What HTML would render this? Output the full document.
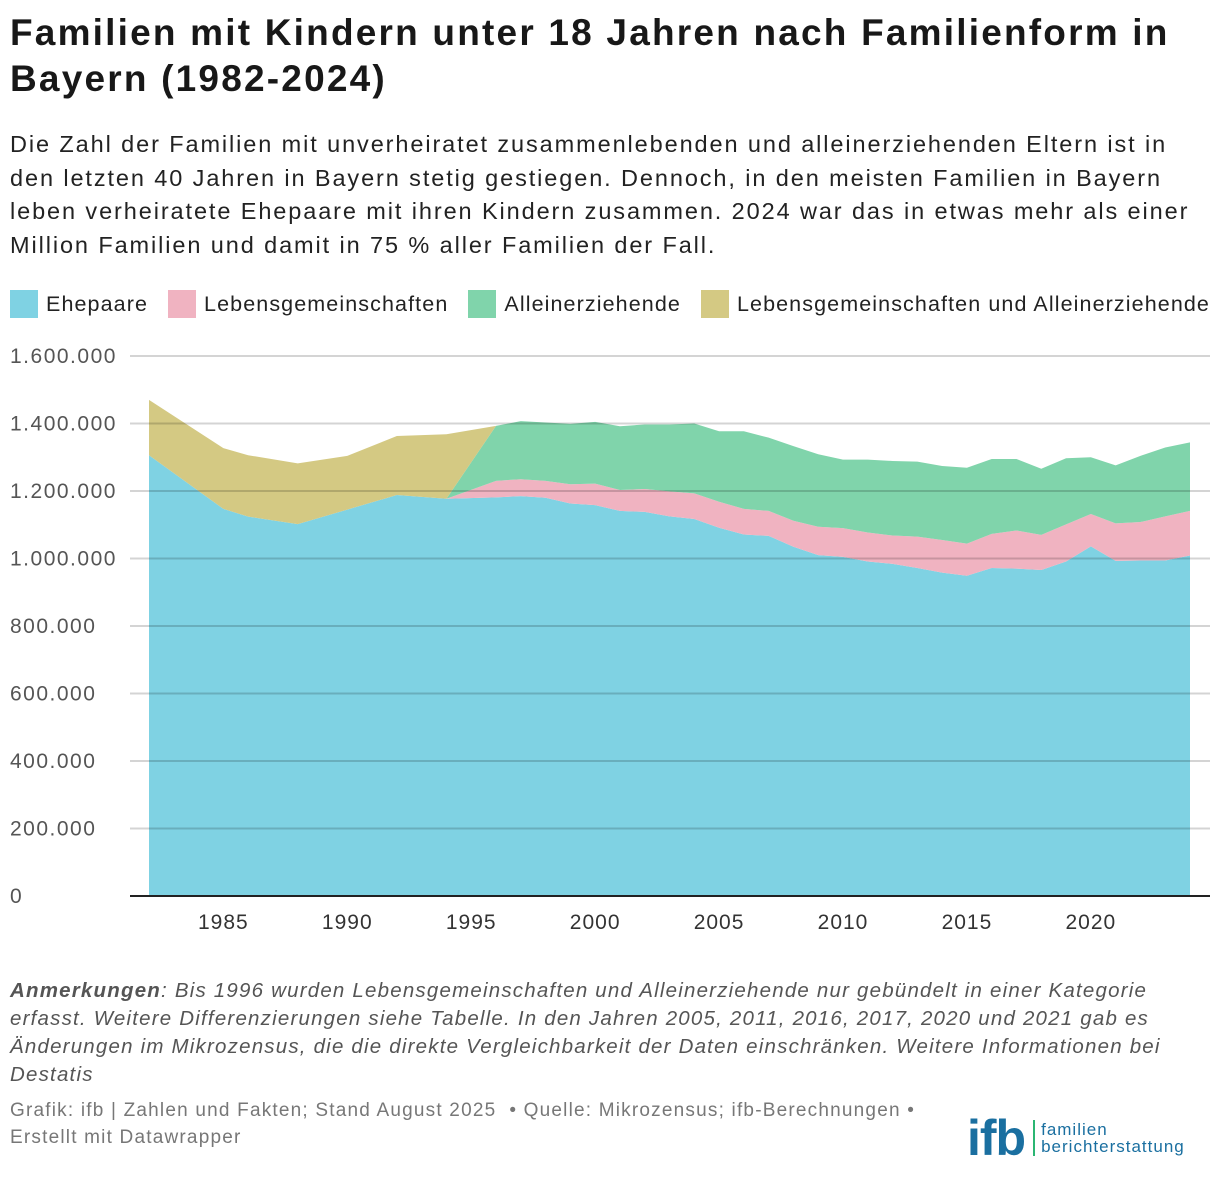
<!DOCTYPE html>
<html><head><meta charset="utf-8">
<style>
body{margin:0;width:1220px;height:1190px;background:#fff;font-family:"Liberation Sans",sans-serif;position:relative;overflow:hidden}
.t{position:absolute;left:10px;top:10px;font-size:37px;letter-spacing:2.2px;font-weight:bold;line-height:46px;color:#181818;margin:0;white-space:nowrap}
.s{position:absolute;left:10px;top:128px;font-size:23.5px;letter-spacing:1.9px;line-height:33.5px;color:#222;white-space:nowrap}
.leg{position:absolute;top:290px;left:10px;font-size:21.5px;letter-spacing:1.1px;color:#222;display:flex;white-space:nowrap}
.li{display:flex;align-items:center;margin-right:20px}
.sw{width:28px;height:28px;margin-right:8px}
.n{position:absolute;left:10px;top:977px;font-size:20.5px;letter-spacing:1.2px;line-height:28px;color:#555;font-style:italic;white-space:nowrap}
.f{position:absolute;left:10px;top:1097px;font-size:19px;letter-spacing:1.2px;line-height:27px;color:#777;white-space:nowrap}
</style></head><body>
<h1 class="t">Familien mit Kindern unter 18 Jahren nach Familienform in<br>Bayern (1982-2024)</h1>
<div class="s">Die Zahl der Familien mit unverheiratet zusammenlebenden und alleinerziehenden Eltern ist in<br>den letzten 40 Jahren in Bayern stetig gestiegen. Dennoch, in den meisten Familien in Bayern<br>leben verheiratete Ehepaare mit ihren Kindern zusammen. 2024 war das in etwas mehr als einer<br>Million Familien und damit in 75 % aller Familien der Fall.</div>
<div class="leg">
<div class="li"><div class="sw" style="background:#7fd2e3"></div>Ehepaare</div>
<div class="li"><div class="sw" style="background:#f0b3c1"></div>Lebensgemeinschaften</div>
<div class="li"><div class="sw" style="background:#80d4ab"></div>Alleinerziehende</div>
<div class="li"><div class="sw" style="background:#d4c983"></div>Lebensgemeinschaften und Alleinerziehende</div>
</div>
<svg id="chart" width="1220" height="1190" style="position:absolute;left:0;top:0" font-family="Liberation Sans, sans-serif"></svg>
<div class="n"><b>Anmerkungen</b>: Bis 1996 wurden Lebensgemeinschaften und Alleinerziehende nur gebündelt in einer Kategorie<br>erfasst. Weitere Differenzierungen siehe Tabelle. In den Jahren 2005, 2011, 2016, 2017, 2020 und 2021 gab es<br>Änderungen im Mikrozensus, die die direkte Vergleichbarkeit der Daten einschränken. Weitere Informationen bei<br>Destatis</div>
<div class="f">Grafik: ifb | Zahlen und Fakten; Stand August 2025 &nbsp;• Quelle: Mikrozensus; ifb-Berechnungen •<br>Erstellt mit Datawrapper</div>
<div style="position:absolute;left:967px;top:1113px;display:flex;align-items:center">
<span style="font-size:50px;font-weight:bold;color:#1a6fa0;letter-spacing:-1px;line-height:50px">ifb</span>
<span style="width:2px;height:36px;background:#2bb673;margin:0 6px 0 8px"></span>
<span style="font-size:17px;letter-spacing:1px;line-height:17px;color:#1a6fa0">familien<br>berichterstattung</span>
</div>
<script>
const years=[1982,1985,1986,1988,1990,1992,1994,1996,1997,1998,1999,2000,2001,2002,2003,2004,2005,2006,2007,2008,2009,2010,2011,2012,2013,2014,2015,2016,2017,2018,2019,2020,2021,2022,2023,2024];
const ehepaare=[1306,1147,1124,1102,1145,1188,1177,1181,1185,1180,1163,1158,1141,1138,1125,1117,1091,1071,1067,1035,1010,1005,991,984,972,958,949,972,970,966,991,1036,993,994,994,1009];
const lebensgemeinschaften=[0,0,0,0,0,0,0,49,50,50,57,64,62,68,74,76,77,76,74,77,84,85,86,84,93,97,95,101,113,104,110,96,111,114,131,132];
const alleinerziehende=[0,0,0,0,0,0,0,163,172,173,179,183,189,191,198,207,209,230,217,221,215,203,216,221,222,219,225,222,212,196,196,168,172,196,204,203];
const kombiniert=[164,180,182,180,159,175,191,0,0,0,0,0,0,0,0,0,0,0,0,0,0,0,0,0,0,0,0,0,0,0,0,0,0,0,0,0];
const yTicks=[0,200,400,600,800,1000,1200,1400,1600];
const yTickLabels=["0","200.000","400.000","600.000","800.000","1.000.000","1.200.000","1.400.000","1.600.000"];
const xTicks=[1985,1990,1995,2000,2005,2010,2015,2020];
const NS="http://www.w3.org/2000/svg";
const svg=document.getElementById('chart');
const x=v=>149+(v-1982)*(1190-149)/42;
const y=v=>896-v*540/1600;
function mk(t,a){const e=document.createElementNS(NS,t);for(const k in a)e.setAttribute(k,a[k]);svg.appendChild(e);return e;}
const series=[[ehepaare,'#7fd2e3','area-ehepaare'],[lebensgemeinschaften,'#f0b3c1','area-lebensgemeinschaften'],[alleinerziehende,'#80d4ab','area-alleinerziehende'],[kombiniert,'#d4c983','area-kombiniert']];
let base=years.map(()=>0);
for(const [vals,col,name] of series){
  const top=base.map((b,i)=>b+vals[i]);
  let pts=years.map((yr,i)=>x(yr)+','+y(top[i]));
  for(let i=years.length-1;i>=0;i--)pts.push(x(years[i])+','+y(base[i]));
  const p=mk('polygon',{points:pts.join(' '),fill:col});
  
  
  base=top;
}
yTicks.forEach((t,i)=>{
  const l=mk('line',{x1:130,x2:1210,y1:y(t),y2:y(t),stroke:t===0?'#222':'rgba(0,0,0,0.17)','stroke-width':2});
  
  
  const tx=mk('text',{x:10,y:y(t)+7,'font-size':21,'letter-spacing':1.5,fill:'#555'});
  tx.textContent=yTickLabels[i];
  
  
});
xTicks.forEach(t=>{
  const tx=mk('text',{x:x(t),y:929,'font-size':21,'letter-spacing':1,fill:'#333','text-anchor':'middle'});
  tx.textContent=t;
  
  
});
</script>
</body></html>
